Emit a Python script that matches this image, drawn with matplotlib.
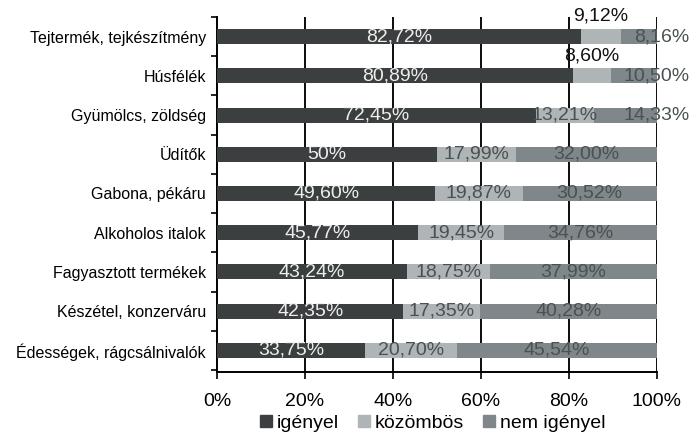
import matplotlib.pyplot as plt
import numpy as np

plt.rcParams['font.family'] = ['Liberation Sans', 'DejaVu Sans']

categories = ['Tejtermék, tejkészítmény', 'Húsfélék', 'Gyümölcs, zöldség', 'Üdítők',
              'Gabona, pékáru', 'Alkoholos italok', 'Fagyasztott termékek',
              'Készétel, konzerváru', 'Édességek, rágcsálnivalók']
igenyel = [82.72, 80.89, 72.45, 50.0, 49.60, 45.77, 43.24, 42.35, 33.75]
kozombos = [9.12, 8.60, 13.21, 17.99, 19.87, 19.45, 18.75, 17.35, 20.70]
nem_igenyel = [8.16, 10.50, 14.33, 32.00, 30.52, 34.76, 37.99, 40.28, 45.54]
series_names = ['igényel', 'közömbös', 'nem igényel']
grid_x = [20, 40, 60, 80, 100]

colors = ['#3b3f40', '#afb5b7', '#80878a']
text_colors = ['#eeeeee', '#4a5153', '#4a5153']

def fmt(v):
    if v == 50:
        return '50%'
    return ('%.2f%%' % v).replace('.', ',')

fig = plt.figure(figsize=(6.98, 4.37), dpi=100)
ax = fig.add_axes([0.311, 0.149, 0.630, 0.812])

y = np.arange(len(categories))
ymin, ymax = -0.5, 8.55

# vertical gridlines behind the bars, drawn as thin filled strips
ax.bar(grid_x, ymax - ymin, bottom=ymin, width=0.38, color='#111111',
       linewidth=0, zorder=2)

left = np.zeros(len(categories))
for k, vals in enumerate([igenyel, kozombos, nem_igenyel]):
    vals = np.array(vals)
    ax.barh(y, vals, left=left, height=0.38, color=colors[k], zorder=3)
    for i, v in enumerate(vals):
        cx = left[i] + v / 2
        if k == 1 and v < 10:
            # small middle segment: label goes above the bar
            ax.text(cx, y[i] - 0.3, fmt(v), ha='center', va='bottom',
                    fontsize=14, color='#111111', zorder=4)
        elif k == 2 and v < 15:
            ax.text(107.5, y[i], fmt(v), ha='right', va='center',
                    fontsize=14, color=text_colors[k], zorder=4, clip_on=False)
        else:
            ax.text(cx, y[i], fmt(v), ha='center', va='center',
                    fontsize=14, color=text_colors[k], zorder=4)
    left += vals

ax.set_xlim(0, 100)
ax.set_ylim(ymax, ymin)
ax.set_xticks([0, 20, 40, 60, 80, 100])
ax.set_xticklabels(['0%', '20%', '40%', '60%', '80%', '100%'], fontsize=14)
ax.set_yticks(y)
ax.set_yticklabels(categories, fontsize=11.5)
ax.tick_params(axis='y', length=0, pad=8)
ax.set_yticks(np.arange(-0.5, 9.0, 1.0), minor=True)
ax.tick_params(axis='y', which='minor', length=4, width=1.2, direction='out')
ax.tick_params(axis='x', length=5, width=1.2, direction='out', pad=10)

for s in ['top', 'right']:
    ax.spines[s].set_visible(False)
ax.spines['left'].set_linewidth(1.4)
ax.spines['bottom'].set_linewidth(1.4)

handles = [plt.Rectangle((0, 0), 1, 1, color=c) for c in colors]
ax.legend(handles, series_names, loc='center', bbox_to_anchor=(0.49, -0.145),
          ncol=3, frameon=False, fontsize=14, handlelength=0.6, handleheight=0.6,
          handletextpad=0.25, columnspacing=1.0, borderpad=0.1)

fig.savefig('out.png', dpi=100)
